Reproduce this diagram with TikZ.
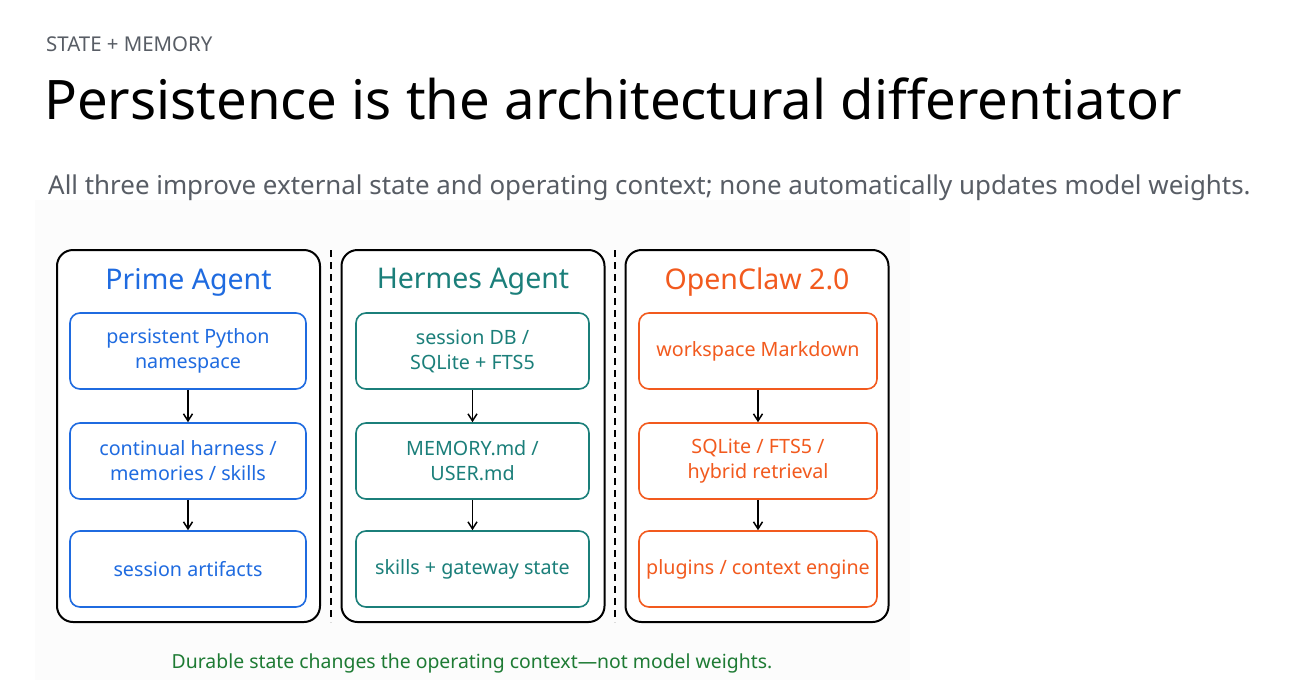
\documentclass[tikz,border=0pt]{standalone}
\usepackage{fontspec}
\setmainfont{Noto Sans}
\usetikzlibrary{arrows.meta}
\definecolor{pblue}{HTML}{1F6BE0}
\definecolor{pteal}{HTML}{1B7F7A}
\definecolor{porange}{HTML}{F25A1E}
\definecolor{pgreen}{HTML}{1E7B34}
\definecolor{pgrey}{HTML}{585D65}
\definecolor{bgfaint}{HTML}{FCFCFC}
\tikzset{
  panel/.style={draw=black, line width=2pt, rounded corners=16pt, minimum width=263pt, minimum height=372pt, fill=white},
  ptitle/.style={font=\fontsize{28.5}{32}\selectfont, inner sep=0pt},
  ibox/.style={draw, line width=1.6pt, rounded corners=10pt, minimum width=236pt, minimum height=76pt, align=center, font=\fontsize{19.7}{25}\selectfont, fill=white},
  arr/.style={-{Straight Barb[length=7pt,width=9pt]}, line width=1.5pt, black},
  sep/.style={draw=black, line width=1.4pt, dash pattern=on 7pt off 5pt},
}
\begin{document}
\begin{tikzpicture}[x=1pt,y=-1pt]
\useasboundingbox (0,0) rectangle (1300,680);
\fill[white] (0,0) rectangle (1300,680);
\fill[bgfaint] (35,200) rectangle (910,680);

\node[anchor=base west, text=pgrey, font=\fontsize{20.4}{22}\selectfont, inner sep=0pt] (kicker) at (46,51) {STATE + MEMORY};
\node[anchor=base west, text=black, font=\fontsize{54.5}{60}\selectfont, inner sep=0pt] (title) at (44,119) {Persistence is the architectural differentiator};
\node[anchor=base west, text=pgrey, font=\fontsize{25.9}{30}\selectfont, inner sep=0pt] (sub) at (48,194) {All three improve external state and operating context; none automatically updates model weights.};

% panels
\node[panel] (p1) at (188.5,436) {};
\node[panel] (p2) at (473,436) {};
\node[panel] (p3) at (757,436) {};

% separators
\coordinate (s1t) at (331,250); \coordinate (s1b) at (331,622);
\coordinate (s2t) at (615,250); \coordinate (s2b) at (615,622);
\draw[sep] (s1t) -- (s1b);
\draw[sep] (s2t) -- (s2b);

% titles
\node[ptitle, text=pblue] (t1) at (188.5,282) {Prime Agent};
\node[ptitle, text=pteal] (t2) at (473,282) {Hermes Agent};
\node[ptitle, text=porange] (t3) at (757,282) {OpenClaw 2.0};

% Prime boxes
\node[ibox, draw=pblue, text=pblue] (a1) at (188,351) {persistent Python\\namespace};
\node[ibox, draw=pblue, text=pblue] (a2) at (188,461) {continual harness /\\memories / skills};
\node[ibox, draw=pblue, text=pblue] (a3) at (188,569) {session artifacts};
% Hermes boxes
\node[ibox, draw=pteal, text=pteal, minimum width=233pt] (b1) at (472.5,351) {session DB /\\SQLite + FTS5};
\node[ibox, draw=pteal, text=pteal, minimum width=233pt] (b2) at (472.5,461) {MEMORY.md /\\USER.md};
\node[ibox, draw=pteal, text=pteal, minimum width=233pt] (b3) at (472.5,569) {skills + gateway state};
% OpenClaw boxes
\node[ibox, draw=porange, text=porange, minimum width=238pt] (c1) at (758,351) {workspace Markdown};
\node[ibox, draw=porange, text=porange, minimum width=238pt] (c2) at (758,461) {SQLite / FTS5 /\\hybrid retrieval};
\node[ibox, draw=porange, text=porange, minimum width=238pt] (c3) at (758,569) {plugins / context engine};

\draw[arr] (a1) -- (a2);
\draw[arr] (a2) -- (a3);
\draw[arr] (b1) -- (b2);
\draw[arr] (b2) -- (b3);
\draw[arr] (c1) -- (c2);
\draw[arr] (c2) -- (c3);

\node[anchor=base, text=pgreen, font=\fontsize{19.4}{22}\selectfont, inner sep=0pt] (foot) at (472,668) {Durable state changes the operating context—not model weights.};
\end{tikzpicture}
\end{document}
